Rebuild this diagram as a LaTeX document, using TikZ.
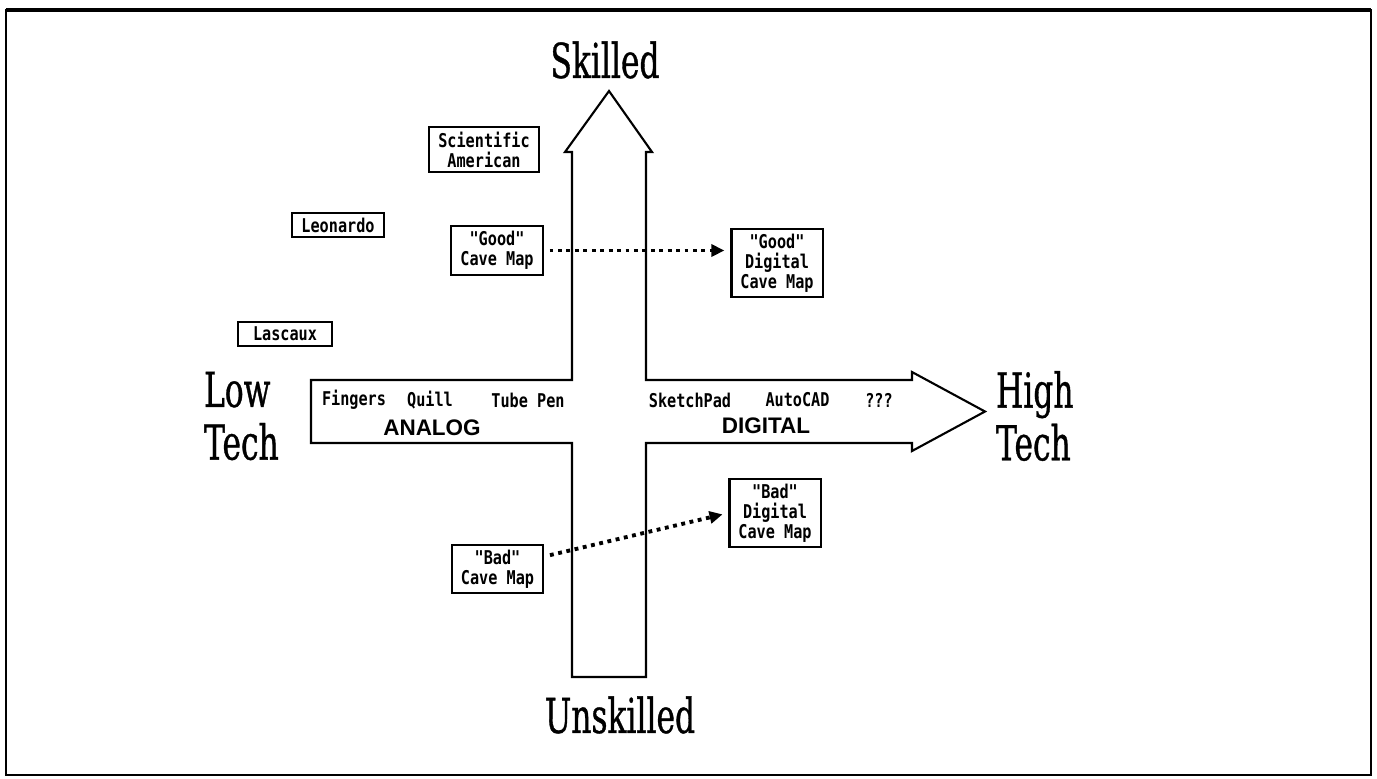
\documentclass[tikz,border=0pt]{standalone}
\usepackage{fontspec}
\newfontfamily\printfont[FakeStretch=0.8]{DejaVu Sans Mono}
\newfontfamily\signfont[FakeStretch=0.65, FakeBold=0.7]{DejaVu Serif}
\newfontfamily\blockfont{Liberation Sans}
\usetikzlibrary{arrows.meta}

\begin{document}
\begin{tikzpicture}[
    >={Triangle[length=0.13cm, width=0.12cm]},
    line width=0.6pt,
    every node/.style={align=center},
    axislabel/.style={inner sep=0pt, font=\signfont\fontsize{13.7}{15}\selectfont},
    refbox/.style={draw, inner xsep=0.09cm, inner ysep=0.05cm, font=\printfont\bfseries\fontsize{5.4}{5.7}\selectfont},
    toolname/.style={inner sep=0pt, font=\printfont\bfseries\fontsize{5.4}{5.7}\selectfont},
    eralabel/.style={inner sep=0pt, font=\blockfont\bfseries\fontsize{6.4}{7}\selectfont},
    mapping/.style={->, line width=1.1pt, dash pattern=on 1.1pt off 1.3pt, shorten <=0.06cm, shorten >=0.06cm}
]
\useasboundingbox (0,0) rectangle (13.77,7.78);

% -------------------------------------------------
% FRAME
% -------------------------------------------------
\draw[line width=0.8pt] (0.06,0.03) rectangle (13.71,7.68);
\draw[line width=1.1pt] (0.06,7.68) -- (13.71,7.68);

% -------------------------------------------------
% CROSS OF ARROWS
% -------------------------------------------------
\draw (3.11,3.98) -- (5.72,3.98) -- (5.72,6.26) -- (5.65,6.26) -- (6.09,6.87)
    -- (6.52,6.26) -- (6.46,6.26) -- (6.46,3.98) -- (9.12,3.98) -- (9.12,4.06)
    -- (9.85,3.665) -- (9.12,3.27) -- (9.12,3.35) -- (6.46,3.35) -- (6.46,1.01)
    -- (5.72,1.01) -- (5.72,3.35) -- (3.11,3.35) -- cycle;

% axis ends
\node[axislabel] (skilled) at (6.05,7.18) {Skilled};
\node[axislabel] (unskilled) at (6.20,0.63) {Unskilled};
\node[axislabel, anchor=west, align=left] (lowtech) at (2.03,3.62) {Low\\Tech};
\node[axislabel, anchor=west, align=left] (hightech) at (9.95,3.62) {High\\Tech};

% tools along the bar
\node[toolname] (fingers) at (3.54,3.78) {Fingers};
\node[toolname] (quill) at (4.30,3.78) {Quill};
\node[toolname] (tubepen) at (5.28,3.78) {Tube Pen};
\node[toolname] (sketchpad) at (6.90,3.78) {SketchPad};
\node[toolname] (autocad) at (7.975,3.78) {AutoCAD};
\node[toolname] (unknown) at (8.79,3.78) {???};

\node[eralabel] (analog) at (4.32,3.50) {ANALOG};
\node[eralabel] (digital) at (7.66,3.52) {DIGITAL};

% -------------------------------------------------
% EXAMPLES
% -------------------------------------------------
\node[refbox] (sciam) at (4.84,6.285) {Scientific\\American};
\node[refbox] (leonardo) at (3.38,5.53) {Leonardo};
\node[refbox, minimum width=0.94cm] (lascaux) at (2.85,4.44) {Lascaux};

\node[refbox] (goodcave) at (4.97,5.275) {"Good"\\Cave Map};
\node[refbox] (gooddig) at (7.77,5.15) {"Good"\\Digital\\Cave Map};
\node[refbox] (badcave) at (4.975,2.09) {"Bad"\\Cave Map};
\node[refbox] (baddig) at (7.75,2.65) {"Bad"\\Digital\\Cave Map};

% going digital
\draw[mapping] (goodcave.east) -- (goodcave.east -| gooddig.west);
\draw[mapping] (badcave.15) -- (baddig.west);

\end{tikzpicture}
\end{document}
